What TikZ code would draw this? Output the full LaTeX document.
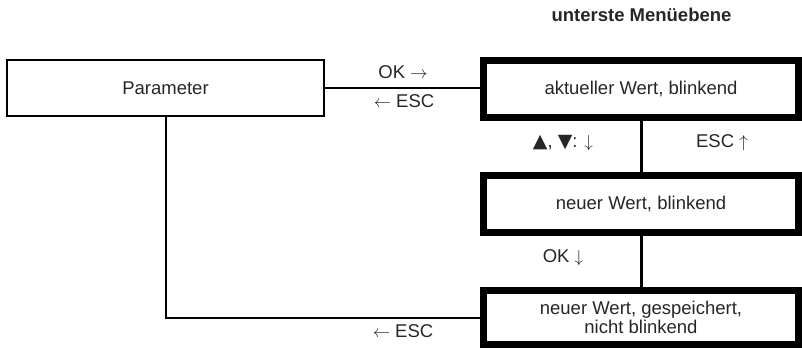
\documentclass[tikz,border=0pt]{standalone}
\usepackage{fontspec}
\setmainfont{Liberation Sans}
\newfontfamily\symfont{DejaVu Sans}
\newcommand{\tri}[1]{{\symfont\fontsize{19}{21}\selectfont #1}}
\begin{document}
\begin{tikzpicture}[x=1pt,y=-1pt,
  every node/.style={font=\fontsize{18.5}{21}\selectfont, text=black!85},
  thinbox/.style={draw=black, line width=2pt, rectangle, inner sep=0pt, minimum width=317pt, minimum height=56pt},
  thickbox/.style={draw=black, line width=7pt, rectangle, inner sep=0pt, minimum width=315pt, align=center},
  thinline/.style={draw=black, line width=2pt},
  midline/.style={draw=black, line width=3pt},
  lbl/.style={inner sep=0pt}
]
\useasboundingbox (0,0) rectangle (802,348);
\node[lbl, font=\bfseries\fontsize{18.5}{21}\selectfont] (title) at (641.5,15) {unterste Menüebene};
\node[thinbox] (p) at (165.5,88) {Parameter};
\node[thickbox, minimum height=57pt] (b1) at (641,89) {aktueller Wert, blinkend};
\node[thickbox, minimum height=57pt] (b2) at (641,204) {neuer Wert, blinkend};
\node[thickbox, minimum height=54pt] (b3) at (641,317.5) {neuer Wert, gespeichert,\\[-2pt] nicht blinkend};
\draw[thinline] (p.east) -- (p.east -| b1.west);
\draw[midline] (b1.south) -- (b2.north);
\draw[midline] (b2.south) -- (b3.north);
\draw[thinline] (p.south) |- (b3.west);
\node[lbl] (l1) at (403,72) {OK $\rightarrow$};
\node[lbl] (l2) at (404,101) {$\leftarrow$ ESC};
\node[lbl] (l3) at (563,143) {\tri{▲}, \tri{▼}: $\downarrow$};
\node[lbl] (l4) at (722,143) {ESC $\uparrow$};
\node[lbl] (l5) at (563,258) {OK $\downarrow$};
\node[lbl] (l6) at (403,331) {$\leftarrow$ ESC};
\end{tikzpicture}
\end{document}
